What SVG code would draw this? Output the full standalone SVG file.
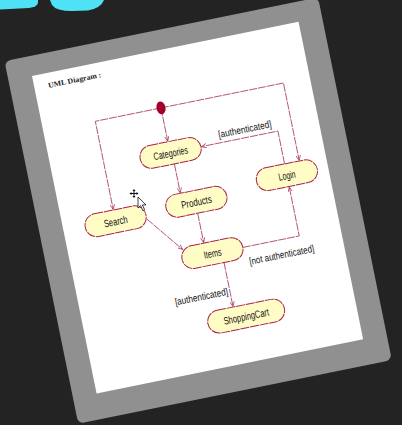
<svg xmlns="http://www.w3.org/2000/svg" width="402" height="425" viewBox="0 0 402 425">
  <defs>
    <style>
      .node rect { fill: #fffcc6; stroke: #a8244a; stroke-width: 1; stroke-dasharray: 9 0.8; }
      .node text { font-family: "Liberation Sans Narrow", "Liberation Sans", Arial, sans-serif; font-size: 10.5px; fill: #111; text-anchor: middle; }
      .conn path { fill: none; stroke: #a83a5e; stroke-width: 0.8; stroke-dasharray: 8 1; }
      .lbl { font-family: "Liberation Sans Narrow", "Liberation Sans", Arial, sans-serif; font-size: 10px; fill: #111; text-anchor: middle; }
    </style>
    <marker id="arr" viewBox="0 0 8 8" refX="8" refY="4" markerWidth="5" markerHeight="5" markerUnits="userSpaceOnUse" orient="auto">
      <path d="M0,0.5 L8,4 L0,7.5" fill="none" stroke="#a83a5e" stroke-width="1.2"/>
    </marker>
  </defs>
  <rect width="402" height="425" fill="#232323"/>
  <path d="M0,0 H38 V3 Q37,7 29,8 L0,9.5 Z" fill="#4fe1f5"/>
  <path d="M50,0 H104 Q101,8 88,10.5 L72,11 Q56,11 52,5 Z" fill="#4fe1f5"/>

  <g transform="translate(32,76) rotate(-11.5)">
    <rect x="-24" y="-20" width="320" height="370" rx="6" fill="#909090"/>
    <rect x="0" y="0" width="272" height="324" fill="#ffffff"/>
    <text x="14" y="15" font-family="Liberation Serif, serif" font-size="7.5" font-weight="bold" fill="#1a1a1a" textLength="54" lengthAdjust="spacingAndGlyphs">UML Diagram :</text>

    <g class="conn">
      <path d="M120,57 H53 V147" marker-end="url(#arr)"/>
      <path d="M120,57 H245 V136" marker-end="url(#arr)"/>
      <path d="M120,57 V91" marker-end="url(#arr)"/>
      <path d="M230,136.5 V103 H152" marker-end="url(#arr)"/>
      <path d="M122,114.5 V144" marker-end="url(#arr)"/>
      <path d="M135,167.5 V197.5" marker-end="url(#arr)"/>
      <path d="M84,163 L113,200" marker-end="url(#arr)"/>
      <path d="M172.5,210 H230 V160" marker-end="url(#arr)"/>
      <path d="M151,221 V266" marker-end="url(#arr)"/>
    </g>
    <text class="lbl" x="198" y="98" textLength="54" lengthAdjust="spacingAndGlyphs">[authenticated]</text>
    <text class="lbl" x="209" y="228.5" textLength="66" lengthAdjust="spacingAndGlyphs">[not authenticated]</text>
    <text class="lbl" x="122" y="253.5" textLength="54" lengthAdjust="spacingAndGlyphs">[authenticated]</text>

    <g id="initial"><ellipse cx="120" cy="57" rx="4.5" ry="6.5" fill="#a3002c"/></g>
    <g id="categories" class="node"><rect x="89.5" y="91.5" width="62" height="23" rx="11.5"/><text x="120.5" y="107" textLength="35" lengthAdjust="spacingAndGlyphs">Categories</text></g>
    <g id="login" class="node"><rect x="199" y="136.5" width="62" height="23" rx="11.5"/><text x="230" y="152" textLength="17" lengthAdjust="spacingAndGlyphs">Login</text></g>
    <g id="search" class="node"><rect x="22" y="147.5" width="62" height="23" rx="11.5"/><text x="53" y="163" textLength="24" lengthAdjust="spacingAndGlyphs">Search</text></g>
    <g id="products" class="node"><rect x="105" y="144.5" width="62" height="23" rx="11.5"/><text x="136" y="160" textLength="31" lengthAdjust="spacingAndGlyphs">Products</text></g>
    <g id="items" class="node"><rect x="110.5" y="198" width="62" height="23" rx="11.5"/><text x="141.5" y="213.5" textLength="18" lengthAdjust="spacingAndGlyphs">Items</text></g>
    <g id="shoppingcart" class="node"><rect x="123" y="266.5" width="78" height="23" rx="11.5"/><text x="162" y="282" textLength="46" lengthAdjust="spacingAndGlyphs">ShoppingCart</text></g>
  </g>

  <g id="cursor">
    <path d="M134,190 V197 M130.5,193.5 H137.5" stroke="#111" stroke-width="1"/>
    <path d="M132.5,191 L134,189 L135.5,191 Z M132.5,196 L134,198 L135.5,196 Z M131.5,192 L129.5,193.5 L131.5,195 Z M136.5,192 L138.5,193.5 L136.5,195 Z" fill="#111"/>
    <path d="M138,197 V208 L140.6,205.6 L142.8,210.5 L144.6,209.7 L142.4,204.9 L146,204.9 Z" fill="#fff" stroke="#111" stroke-width="0.8"/>
  </g>
</svg>
